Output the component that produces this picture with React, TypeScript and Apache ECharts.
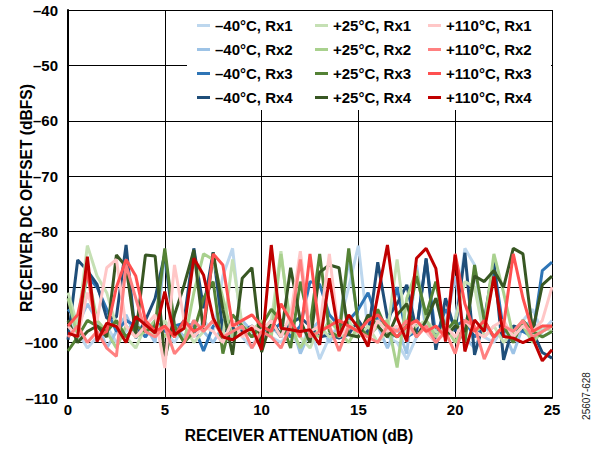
import React, { useEffect, useRef } from "react";
import * as echarts from "echarts";

const attenuation = [
  0, 0.5, 1, 1.5, 2, 2.5, 3, 3.5, 4, 4.5,
  5, 5.5, 6, 6.5, 7, 7.5, 8, 8.5, 9, 9.5,
  10, 10.5, 11, 11.5, 12, 12.5, 13, 13.5, 14, 14.5,
  15, 15.5, 16, 16.5, 17, 17.5, 18, 18.5, 19, 19.5,
  20, 20.5, 21, 21.5, 22, 22.5, 23, 23.5, 24, 24.5,
  25,
];

const m40Rx1 = [
  -96, -98, -101, -99, -97, -100, -98, -96, -99, -97,
  -98, -100, -97, -99, -96, -98, -88, -83, -99, -101,
  -97, -99, -100, -98, -101, -97, -103, -99, -97, -90,
  -82.5, -98, -97, -99, -100, -103, -99, -96, -92, -99,
  -96, -83, -86, -99, -100, -97, -100, -96, -94, -98,
  -96,
];
const m40Rx2 = [
  -99, -97, -93, -96, -101, -98, -95, -99, -97, -100,
  -84, -97, -99, -96, -98, -100, -97, -99, -96, -98,
  -100, -97, -99, -96, -102, -98, -96, -100, -97, -85,
  -96, -99, -97, -101, -97, -102, -86, -98, -100, -97,
  -88, -99, -101, -97, -99, -98, -102, -97, -96, -99,
  -98,
];
const m40Rx3 = [
  -94, -96, -88, -90, -94, -98, -96, -97, -99, -96,
  -98, -97, -96.5, -97, -101.5, -97, -96, -98, -97, -99,
  -97, -98, -96.5, -99, -97, -89, -89.5, -95, -97, -96,
  -94, -91, -96, -97, -90, -99, -98, -85, -99, -94,
  -97, -96, -99, -97, -86, -98, -97.5, -98, -99, -87,
  -85.5,
];
const m40Rx4 = [
  -99.5, -85.1, -87, -89.5, -95.6, -95.4, -82.4, -99.2, -96, -92,
  -84, -98.6, -96, -83, -93.8, -83.7, -98, -97.4, -98, -97,
  -98.5, -96, -98.6, -96.5, -95.5, -97, -99, -98.6, -99.2, -98.5,
  -96, -98.6, -85.5, -95.6, -93, -89.6, -98, -84.8, -101.3, -92,
  -98, -83.8, -102.2, -96, -85.5, -103.1, -97, -97.5, -98, -101.8,
  -102.8,
];
const p25Rx1 = [
  -91, -97, -82.5, -88, -91, -97, -99, -101, -97, -99,
  -96, -99, -97, -100, -98, -96, -99, -85, -97, -99,
  -98, -96, -83.5, -98, -99, -101, -97, -99, -98, -96,
  -99, -97, -100, -98, -85, -99, -97, -96, -98, -99,
  -96, -89, -90, -99, -97, -100, -98, -96, -99, -97,
  -98,
];
const p25Rx2 = [
  -92, -99, -87, -96, -98, -101, -97, -99, -98, -96,
  -99, -97, -100, -91, -84, -85, -92, -99, -97, -98,
  -96, -99, -84, -97, -101, -98, -99, -96, -98, -100,
  -97, -99, -97, -96, -104.5, -92, -87, -96, -99, -97,
  -100, -96, -98, -97, -84, -91, -99, -97, -100, -98,
  -97,
];
const p25Rx3 = [
  -101.5, -99, -96, -97, -98, -96, -99, -97, -98, -97,
  -83, -97, -100, -98, -92, -89, -102, -95, -97, -99,
  -97, -94, -96, -101, -89, -97, -84, -98, -99, -83,
  -97, -99, -94, -98, -99, -97, -88, -95, -89, -98,
  -96, -100, -86, -96, -99, -97, -100, -96, -98, -99,
  -98,
];
const p25Rx4 = [
  -96, -100, -98, -97, -99, -84.2, -86.3, -98.6, -84.2, -84.4,
  -103.1, -95, -89.6, -83.3, -98, -83.8, -94, -102.2, -88.4, -86.5,
  -101.7, -96, -99, -86.5, -96, -100, -87.3, -86, -86.5, -98.6,
  -99, -95, -97, -99, -95, -93, -99, -96, -92, -99,
  -97, -98, -88, -89, -87, -90, -83, -84, -98, -89.6,
  -88,
];
const p110Rx1 = [
  -97, -99, -91, -96, -86.5, -85, -97, -99, -97, -95,
  -104.6, -86, -96, -99, -97, -98, -100, -96, -99, -97,
  -98, -96, -99, -95, -83.5, -98, -97, -84, -99, -97,
  -98, -100, -96, -98, -97, -99, -96, -98, -100, -97,
  -99, -96, -98, -99, -97, -96, -99, -97, -98, -96,
  -90,
];
const p110Rx2 = [
  -99, -97, -100, -98, -101, -102.5, -86, -92, -98, -99,
  -97, -102, -100, -96, -98, -96, -99, -98, -97, -101,
  -98, -99, -101, -97, -85, -99, -98, -97, -101.5, -97,
  -98, -99, -100, -97, -98, -96, -99, -97, -100, -98,
  -102, -96, -97, -103, -99, -97, -98, -96, -99, -98,
  -97,
];
const p110Rx3 = [
  -97, -95, -87, -99, -98, -90, -85, -88, -96, -98,
  -97, -99, -96, -98, -97, -84, -86, -97, -96, -95,
  -97, -98, -93, -96, -99, -84, -98, -97, -96, -97,
  -98, -96, -95, -97, -99, -97, -96, -98, -97, -99,
  -84, -93, -98, -96, -99, -97, -84, -92, -98, -97,
  -97,
];
const p110Rx4 = [
  -98.3, -98.9, -84.5, -99.8, -96.5, -97.1, -100, -95.3, -96.8, -98.3,
  -90.8, -98.6, -97.4, -84.8, -87.8, -95.6, -99, -99.5, -98.3, -97.4,
  -101.3, -82.4, -97.4, -97.7, -98, -97.7, -100.4, -88.4, -98.9, -95,
  -97.4, -100.7, -91.5, -82.4, -95.6, -99.8, -84.8, -83, -86.6, -99.8,
  -84.2, -101.6, -95.9, -98, -88.1, -98.9, -99.2, -100, -99.2, -103.3,
  -101.3,
];

const seriesNames = [
  "–40°C, Rx1", "–40°C, Rx2", "–40°C, Rx3", "–40°C, Rx4",
  "+25°C, Rx1", "+25°C, Rx2", "+25°C, Rx3", "+25°C, Rx4",
  "+110°C, Rx1", "+110°C, Rx2", "+110°C, Rx3", "+110°C, Rx4",
];
const seriesValues = [
  m40Rx1, m40Rx2, m40Rx3, m40Rx4,
  p25Rx1, p25Rx2, p25Rx3, p25Rx4,
  p110Rx1, p110Rx2, p110Rx3, p110Rx4,
];
const seriesColors = [
  "#bdd7ee", "#9dc3e6", "#2e75b6", "#1f4e79",
  "#c5e0b4", "#a9d18e", "#548235", "#385723",
  "#ffc7c7", "#ff8080", "#ff5050", "#c00000",
];

const FONT = "'Liberation Sans', Arial, Helvetica, sans-serif";
const minusFmt = (v: number) => String(v).replace("-", "–");

export default function App() {
  const ref = useRef<HTMLDivElement>(null);
  useEffect(() => {
    if (!ref.current) return;
    const chart = echarts.init(ref.current, null, { renderer: "svg" });
    const legendText = { color: "#000", fontSize: 15, fontWeight: "bold" as const, fontFamily: FONT };
    const legendCol = (names: string[], left: number) => ({
      orient: "vertical" as const,
      left,
      top: 18,
      padding: 0,
      itemGap: 9,
      itemWidth: 13,
      itemHeight: 3,
      icon: "rect",
      selectedMode: false,
      z: 5,
      data: names,
      textStyle: legendText,
    });
    const titleStyle = { color: "#000", fontSize: 15.6, fontWeight: "bold", fontFamily: FONT };
    chart.setOption({
      animation: false,
      backgroundColor: "#fff",
      grid: { left: 68, right: 48, top: 10, bottom: 52, containLabel: false, outerBoundsMode: "none" },
      xAxis: {
        type: "value",
        min: 0,
        max: 25,
        interval: 5,
        name: "RECEIVER ATTENUATION (dB)",
        nameLocation: "middle",
        nameGap: 29,
        nameMoveOverlap: false,
        nameTextStyle: { ...titleStyle, padding: [0, 22, 0, 0] },
        axisLine: { show: true, onZero: false, lineStyle: { color: "#000", width: 2 } },
        axisTick: { show: false },
        axisLabel: { color: "#000", fontSize: 15, fontWeight: "bold", fontFamily: FONT, margin: 4 },
        splitLine: { show: true, lineStyle: { color: "#000", width: 1 } },
      },
      yAxis: {
        type: "value",
        min: -110,
        max: -40,
        interval: 10,
        name: "RECEIVER DC OFFSET (dBFS)",
        nameLocation: "middle",
        nameGap: 34,
        nameMoveOverlap: false,
        nameTextStyle: { ...titleStyle, padding: [0, 0, 0, 12] },
        axisLine: { show: true, onZero: false, lineStyle: { color: "#000", width: 2 } },
        axisTick: { show: false },
        axisLabel: { color: "#000", fontSize: 15, fontWeight: "bold", fontFamily: FONT, margin: 10, formatter: minusFmt },
        splitLine: { show: true, lineStyle: { color: "#000", width: 1 } },
      },
      legend: [
        legendCol(seriesNames.slice(0, 4), 197),
        legendCol(seriesNames.slice(4, 8), 315),
        legendCol(seriesNames.slice(8, 12), 428),
      ],
      graphic: [
        {
          type: "rect",
          z: 1,
          shape: { x: 187, y: 11, width: 364, height: 99 },
          style: { fill: "#fff" },
        },
        {
          type: "text",
          x: 586,
          y: 396,
          rotation: Math.PI / 2,
          style: {
            text: "25607-628",
            fill: "#222",
            fontSize: 10,
            fontFamily: FONT,
            align: "center",
            verticalAlign: "middle",
          },
        },
      ],
      series: seriesNames.map((name, i) => ({
        name,
        type: "line",
        symbol: "none",
        z: 2,
        color: seriesColors[i],
        lineStyle: { color: seriesColors[i], width: 3 },
        data: attenuation.map((x, j) => [x, seriesValues[i][j]]),
      })),
    });
    return () => chart.dispose();
  }, []);
  return (
    <div
      ref={ref}
      style={{ position: "fixed", left: 0, top: 0, width: 600, height: 450 }}
    />
  );
}
